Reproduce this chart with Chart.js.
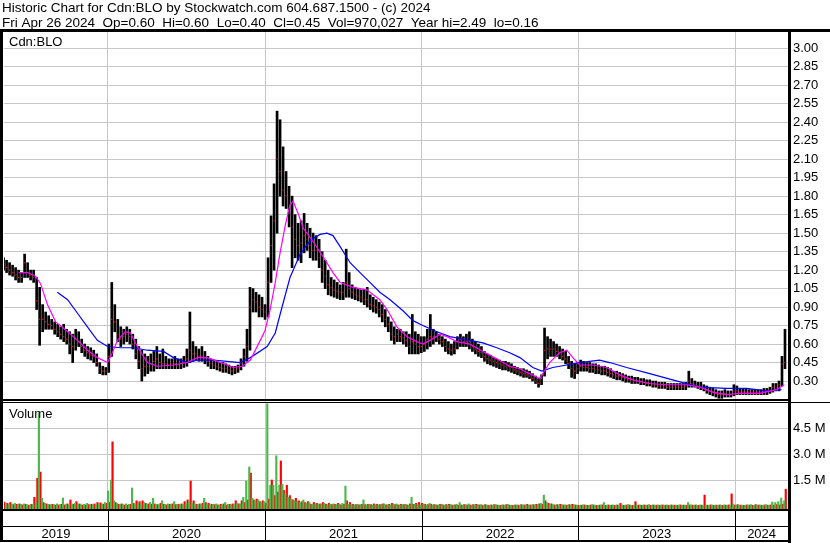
<!DOCTYPE html>
<html>
<head>
<meta charset="utf-8">
<title>Historic Chart for Cdn:BLO</title>
<script src="https://cdn.jsdelivr.net/npm/chart.js"></script>
<style>
  html, body { margin: 0; padding: 0; background: #fff; }
  #wrap { width: 830px; height: 543px; }
</style>
</head>
<body>
<div id="wrap"><canvas id="chart" width="830" height="543"></canvas></div>
<script>
"use strict";

// ════════════════════════════════════════════
// DATA — weekly bars
// one bar per Friday, starting Fri May 3 2019
// ════════════════════════════════════════════

const titleLine1 = "Historic Chart for Cdn:BLO by Stockwatch.com 604.687.1500 - (c) 2024";
const titleLine2 = "Fri Apr 26 2024  Op=0.60  Hi=0.60  Lo=0.40  Cl=0.45  Vol=970,027  Year hi=2.49  lo=0.16";
const symbolLabel = "Cdn:BLO";
const volumeLabel = "Volume";

const yearLabels  = ["2019", "2020", "2021", "2022", "2023", "2024"];
const priceTicks  = [0.30, 0.45, 0.60, 0.75, 0.90, 1.05, 1.20, 1.35, 1.50, 1.65, 1.80, 1.95, 2.10, 2.25, 2.40, 2.55, 2.70, 2.85, 3.00];
const volumeTicks = [1.5, 3.0, 4.5]; // millions

const weekHigh = [
  1.30,1.28,1.26,1.24,1.22,1.20,1.18,1.33,1.26,1.20,
  1.20,1.14,1.06,0.92,0.86,0.83,0.80,0.78,0.76,0.74,
  0.76,0.72,0.70,0.68,0.72,0.70,0.64,0.60,0.58,0.57,
  0.55,0.52,0.45,0.42,0.41,0.60,1.10,0.92,0.80,0.74,
  0.72,0.74,0.72,0.68,0.64,0.58,0.55,0.52,0.50,0.52,
  0.54,0.58,0.52,0.56,0.50,0.48,0.48,0.50,0.48,0.48,
  0.50,0.56,0.86,0.62,0.58,0.56,0.58,0.54,0.50,0.48,
  0.47,0.46,0.45,0.45,0.44,0.43,0.42,0.42,0.43,0.48,
  0.56,0.72,1.06,1.05,1.02,1.00,0.98,0.92,1.30,1.64,
  1.90,2.49,2.42,2.20,2.00,1.88,1.80,1.65,1.58,1.60,
  1.66,1.58,1.54,1.50,1.48,1.45,1.35,1.28,1.20,1.14,
  1.12,1.10,1.08,1.10,1.37,1.18,1.08,1.06,1.05,1.04,
  1.04,1.06,1.00,0.98,0.96,0.94,0.92,0.88,0.82,0.78,
  0.74,0.72,0.72,0.70,0.70,0.68,0.84,0.70,0.68,0.66,
  0.66,0.72,0.84,0.72,0.70,0.68,0.66,0.64,0.62,0.60,
  0.62,0.66,0.68,0.66,0.68,0.70,0.64,0.62,0.60,0.58,
  0.54,0.52,0.51,0.49,0.48,0.47,0.46,0.46,0.45,0.44,
  0.42,0.41,0.40,0.40,0.39,0.38,0.36,0.34,0.32,0.35,
  0.73,0.66,0.64,0.62,0.60,0.58,0.56,0.54,0.50,0.46,
  0.44,0.45,0.47,0.46,0.45,0.45,0.44,0.44,0.43,0.42,
  0.42,0.41,0.40,0.38,0.38,0.37,0.36,0.35,0.34,0.34,
  0.33,0.33,0.32,0.32,0.31,0.31,0.30,0.30,0.29,0.29,
  0.29,0.28,0.28,0.28,0.28,0.28,0.28,0.29,0.38,0.32,
  0.30,0.29,0.29,0.27,0.26,0.25,0.24,0.23,0.22,0.22,
  0.23,0.22,0.22,0.27,0.26,0.24,0.24,0.24,0.23,0.23,
  0.23,0.23,0.23,0.24,0.24,0.25,0.28,0.28,0.30,0.50,
  0.72
];

const weekLow = [
  1.20,1.18,1.16,1.15,1.12,1.10,1.10,1.14,1.14,1.12,
  1.10,0.88,0.59,0.70,0.72,0.72,0.72,0.68,0.66,0.64,
  0.62,0.60,0.52,0.45,0.55,0.58,0.53,0.50,0.48,0.47,
  0.45,0.42,0.36,0.35,0.35,0.37,0.50,0.70,0.62,0.58,
  0.60,0.62,0.60,0.56,0.48,0.40,0.30,0.34,0.36,0.38,
  0.38,0.40,0.40,0.40,0.40,0.40,0.40,0.40,0.40,0.40,
  0.41,0.42,0.45,0.46,0.47,0.46,0.46,0.44,0.42,0.40,
  0.40,0.39,0.38,0.37,0.37,0.36,0.35,0.36,0.37,0.39,
  0.42,0.46,0.55,0.86,0.86,0.82,0.82,0.80,0.82,1.10,
  1.20,1.50,1.80,1.72,1.70,1.55,1.22,1.30,1.28,1.26,
  1.34,1.36,1.30,1.28,1.28,1.22,1.10,1.05,1.00,0.99,
  0.98,0.97,0.96,0.96,0.98,0.98,0.97,0.96,0.95,0.94,
  0.92,0.90,0.88,0.86,0.85,0.82,0.78,0.74,0.70,0.63,
  0.60,0.62,0.62,0.60,0.58,0.52,0.52,0.52,0.52,0.53,
  0.54,0.56,0.58,0.60,0.62,0.60,0.58,0.54,0.52,0.51,
  0.52,0.56,0.58,0.58,0.58,0.56,0.54,0.52,0.50,0.49,
  0.46,0.44,0.43,0.42,0.41,0.40,0.39,0.39,0.38,0.37,
  0.36,0.35,0.34,0.33,0.33,0.32,0.30,0.28,0.25,0.27,
  0.34,0.48,0.50,0.50,0.50,0.48,0.47,0.44,0.40,0.33,
  0.32,0.36,0.38,0.38,0.38,0.37,0.37,0.36,0.36,0.35,
  0.35,0.34,0.33,0.32,0.31,0.31,0.30,0.29,0.29,0.28,
  0.28,0.28,0.27,0.27,0.26,0.26,0.25,0.25,0.24,0.24,
  0.24,0.23,0.23,0.23,0.23,0.23,0.23,0.23,0.25,0.25,
  0.25,0.24,0.23,0.22,0.20,0.19,0.18,0.17,0.16,0.16,
  0.17,0.17,0.17,0.18,0.19,0.19,0.19,0.19,0.19,0.19,
  0.19,0.19,0.19,0.19,0.19,0.20,0.21,0.22,0.22,0.26,
  0.40
];

const weekClose = [
  1.24,1.22,1.20,1.18,1.16,1.14,1.14,1.26,1.18,1.16,
  1.14,0.95,0.80,0.80,0.78,0.76,0.75,0.72,0.70,0.68,
  0.66,0.64,0.60,0.58,0.64,0.62,0.58,0.55,0.53,0.51,
  0.50,0.45,0.40,0.38,0.38,0.50,0.80,0.78,0.68,0.64,
  0.66,0.68,0.66,0.60,0.52,0.46,0.40,0.42,0.42,0.44,
  0.46,0.48,0.45,0.44,0.44,0.43,0.44,0.44,0.43,0.44,
  0.45,0.48,0.55,0.52,0.52,0.50,0.50,0.48,0.46,0.44,
  0.43,0.42,0.41,0.40,0.40,0.39,0.38,0.39,0.40,0.44,
  0.50,0.58,0.90,0.96,0.94,0.90,0.88,0.86,1.10,1.40,
  1.60,2.10,2.00,1.85,1.80,1.68,1.55,1.45,1.40,1.42,
  1.48,1.45,1.40,1.36,1.36,1.30,1.20,1.15,1.08,1.06,
  1.04,1.03,1.02,1.02,1.10,1.05,1.02,1.00,0.99,0.98,
  0.96,0.96,0.92,0.91,0.90,0.88,0.84,0.80,0.76,0.68,
  0.66,0.68,0.66,0.65,0.63,0.58,0.62,0.60,0.58,0.58,
  0.60,0.64,0.66,0.66,0.66,0.64,0.62,0.58,0.56,0.55,
  0.56,0.62,0.64,0.62,0.62,0.62,0.58,0.56,0.54,0.53,
  0.50,0.48,0.47,0.46,0.45,0.44,0.43,0.42,0.42,0.41,
  0.39,0.38,0.37,0.36,0.35,0.34,0.32,0.30,0.28,0.32,
  0.55,0.56,0.56,0.56,0.54,0.52,0.50,0.48,0.44,0.40,
  0.38,0.40,0.42,0.41,0.41,0.40,0.40,0.39,0.39,0.38,
  0.38,0.37,0.36,0.35,0.34,0.34,0.33,0.32,0.31,0.31,
  0.30,0.30,0.29,0.29,0.28,0.28,0.27,0.27,0.26,0.26,
  0.26,0.25,0.25,0.25,0.25,0.25,0.25,0.26,0.30,0.28,
  0.27,0.26,0.25,0.24,0.23,0.22,0.21,0.20,0.19,0.19,
  0.20,0.19,0.19,0.22,0.22,0.21,0.21,0.21,0.21,0.21,
  0.21,0.21,0.21,0.21,0.22,0.22,0.25,0.25,0.27,0.44,
  0.45
];

// volume in millions, up days (green) and down days (red)
const volumeUp = [
  0.10,0.05,0.08,0.12,0.15,0.06,0.10,0.12,0.08,0.05,
  0.10,0.15,5.37,0.45,0.15,0.10,0.06,0.08,0.12,0.08,
  0.46,0.10,0.05,0.12,0.15,0.10,0.08,0.10,0.15,0.05,
  0.06,0.10,0.08,0.12,0.20,0.87,1.50,0.30,0.15,0.10,
  0.08,0.12,0.10,1.04,0.10,0.15,0.08,0.20,0.10,0.20,
  0.45,0.10,0.08,0.30,0.10,0.12,0.08,0.25,0.10,0.06,
  0.10,0.15,0.30,0.15,0.12,0.08,0.10,0.45,0.10,0.06,
  0.10,0.12,0.05,0.08,0.20,0.10,0.06,0.08,0.15,0.12,
  0.50,1.44,2.25,0.45,0.30,0.35,0.20,0.25,5.90,1.20,
  1.20,2.90,1.20,1.25,0.70,0.50,0.40,0.30,0.25,0.20,
  0.35,0.15,0.20,0.10,0.12,0.08,0.10,0.15,0.06,0.10,
  0.12,0.08,0.10,0.15,1.15,0.10,0.08,0.06,0.10,0.08,
  0.35,0.06,0.10,0.05,0.08,0.06,0.10,0.12,0.08,0.06,
  0.10,0.12,0.06,0.08,0.10,0.05,0.50,0.10,0.08,0.06,
  0.10,0.06,0.15,0.05,0.08,0.06,0.10,0.05,0.04,0.08,
  0.06,0.10,0.20,0.05,0.08,0.12,0.04,0.06,0.05,0.08,
  0.04,0.06,0.05,0.04,0.08,0.05,0.06,0.04,0.10,0.05,
  0.04,0.06,0.04,0.05,0.06,0.04,0.05,0.06,0.08,0.15,
  0.63,0.20,0.10,0.08,0.06,0.05,0.04,0.06,0.05,0.04,
  0.06,0.05,0.04,0.06,0.05,0.04,0.08,0.05,0.04,0.06,
  0.20,0.05,0.04,0.06,0.05,0.04,0.06,0.05,0.08,0.04,
  0.05,0.04,0.06,0.05,0.04,0.08,0.05,0.04,0.06,0.05,
  0.04,0.06,0.05,0.04,0.05,0.06,0.04,0.05,0.20,0.06,
  0.04,0.05,0.06,0.04,0.05,0.04,0.06,0.05,0.04,0.05,
  0.06,0.04,0.05,0.12,0.05,0.04,0.05,0.04,0.06,0.08,
  0.04,0.05,0.06,0.05,0.08,0.05,0.23,0.20,0.25,0.46,
  0.30
];

const volumeDown = [
  0.22,0.15,0.20,0.08,0.10,0.12,0.06,0.10,0.05,0.10,
  0.50,1.60,1.96,0.20,0.12,0.08,0.10,0.05,0.06,0.10,
  0.06,0.12,0.35,0.10,0.25,0.12,0.05,0.06,0.08,0.10,
  0.12,0.20,0.18,0.10,0.15,0.20,3.70,0.20,0.10,0.12,
  0.06,0.05,0.10,0.15,0.30,0.25,0.30,0.15,0.12,0.10,
  0.12,0.08,0.15,0.10,0.06,0.10,0.12,0.08,0.10,0.12,
  0.25,0.35,1.44,0.30,0.10,0.12,0.15,0.20,0.15,0.10,
  0.08,0.06,0.10,0.12,0.05,0.10,0.12,0.30,0.12,0.30,
  0.20,0.35,1.90,0.35,0.40,0.25,0.30,0.15,0.40,1.50,
  0.60,0.80,2.60,0.90,1.20,0.60,0.35,0.45,0.30,0.25,
  0.20,0.25,0.10,0.20,0.15,0.12,0.20,0.10,0.15,0.08,
  0.10,0.15,0.06,0.10,0.30,0.20,0.10,0.08,0.06,0.10,
  0.08,0.10,0.08,0.12,0.10,0.08,0.12,0.06,0.10,0.15,
  0.08,0.06,0.10,0.08,0.06,0.12,0.10,0.15,0.20,0.15,
  0.10,0.08,0.10,0.08,0.05,0.10,0.06,0.08,0.10,0.05,
  0.06,0.04,0.06,0.08,0.05,0.06,0.08,0.10,0.06,0.05,
  0.08,0.04,0.06,0.08,0.05,0.04,0.06,0.08,0.05,0.04,
  0.06,0.05,0.08,0.06,0.10,0.06,0.08,0.10,0.12,0.10,
  0.30,0.15,0.12,0.06,0.08,0.10,0.06,0.05,0.08,0.10,
  0.06,0.04,0.05,0.06,0.04,0.05,0.06,0.04,0.05,0.06,
  0.04,0.06,0.05,0.04,0.06,0.15,0.04,0.05,0.06,0.04,
  0.25,0.05,0.04,0.06,0.05,0.04,0.06,0.05,0.04,0.06,
  0.05,0.04,0.06,0.05,0.04,0.06,0.05,0.04,0.06,0.05,
  0.06,0.04,0.05,0.63,0.05,0.06,0.04,0.05,0.06,0.04,
  0.05,0.06,0.70,0.05,0.08,0.05,0.04,0.06,0.05,0.04,
  0.08,0.05,0.04,0.06,0.04,0.06,0.05,0.08,0.06,0.10,
  0.97
];

// moving averages, read at the week positions given
const fastMaWeek = [5.0,8.0,10.6,12.3,14.6,17.3,19.9,24.6,27.9,31.2,34.6,36.2,37.9,40.5,42.2,44.5,47.8,51.2,56.5,61.1,
  64.5,67.8,72.1,76.4,79.4,82.1,85.4,87.0,88.7,90.4,92.0,93.7,95.3,96.3,98.0,99.7,103.0,106.3,109.6,112.0,
  116.3,120.9,125.2,127.6,130.9,134.2,137.5,139.5,141.9,145.2,147.5,150.8,155.1,159.5,164.1,168.4,171.8,174.1,178.4,181.7,
  185.0,187.4,189.4,191.7,196.0,200.7,205.0,209.3,215.0,220.6,227.2,231.6,235.9,240.5,244.9,251.5,257.1,259.8];
const fastMaValue = [1.18,1.18,1.15,1.09,0.92,0.78,0.73,0.63,0.55,0.49,0.45,0.53,0.63,0.70,0.69,0.58,0.45,0.42,0.43,0.45,
  0.49,0.49,0.45,0.41,0.42,0.47,0.63,0.71,0.88,1.10,1.34,1.56,1.73,1.76,1.66,1.54,1.43,1.31,1.18,1.10,
  1.06,1.04,0.96,0.88,0.74,0.66,0.62,0.60,0.63,0.68,0.66,0.62,0.60,0.54,0.48,0.42,0.40,0.37,0.32,0.45,
  0.53,0.55,0.49,0.43,0.43,0.41,0.35,0.31,0.28,0.27,0.27,0.25,0.21,0.19,0.20,0.20,0.23,0.27];

const slowMaWeek = [17.9,21.3,24.6,27.9,31.2,34.6,38.9,43.2,47.8,53.2,56.5,61.1,64.5,69.8,78.7,82.1,87.7,90.4,92.0,95.3,
  98.7,102.0,105.3,107.6,109.6,112.0,115.3,118.6,121.9,125.2,128.6,132.9,136.2,139.5,144.2,148.5,155.1,159.5,164.1,168.4,
  171.8,176.1,179.1,182.7,187.4,191.7,198.3,201.7,207.3,215.0,222.6,231.6,240.5,247.2,253.8,258.8];
const slowMaValue = [1.02,0.96,0.85,0.74,0.63,0.58,0.57,0.57,0.55,0.54,0.49,0.45,0.47,0.47,0.45,0.49,0.58,0.69,0.84,1.14,
  1.33,1.44,1.49,1.50,1.48,1.39,1.26,1.18,1.10,1.02,0.96,0.87,0.79,0.75,0.70,0.66,0.63,0.61,0.57,0.53,
  0.49,0.41,0.38,0.41,0.43,0.45,0.47,0.45,0.41,0.36,0.31,0.25,0.24,0.24,0.22,0.23];

// ════════════════════════════════════════════
// DATES — x axis is days since Jan 1 2019
// ════════════════════════════════════════════

function dayNumber(y, m, d) {
  return (Date.UTC(y, m - 1, d) - Date.UTC(2019, 0, 1)) / 86400000;
}

const FIRST_BAR_DAY = dayNumber(2019, 5, 3);
const X_MIN = dayNumber(2019, 5, 4);
const X_MAX = dayNumber(2024, 5, 3);

const weekDays  = weekHigh.map((_, i) => FIRST_BAR_DAY + 7 * i);
const yearStart = [2020, 2021, 2022, 2023, 2024].map((y) => dayNumber(y, 1, 1));
const yearBounds = [X_MIN].concat(yearStart, [X_MAX]);
const yearMid   = yearLabels.map((_, i) => (yearBounds[i] + yearBounds[i + 1]) / 2);

// ════════════════════════════════════════════
// CHART
// ════════════════════════════════════════════

const FONT = "Arial, 'Liberation Sans', sans-serif";
const GRID = "#c6c6c6";
const PRICE_MIN = 0.138, PRICE_MAX = 3.132;
const VOL_MIN = -0.173, VOL_MAX = 6.06;

Chart.defaults.font.family = FONT;
Chart.defaults.font.size = 13;
Chart.defaults.color = "#000";

// frames, header and panel captions
const framePlugin = {
  id: "frame",
  afterDraw(chart) {
    const ctx = chart.ctx;
    const xs = chart.scales.x;
    ctx.save();
    ctx.fillStyle = "#000";
    ctx.textBaseline = "alphabetic";
    ctx.textAlign = "left";
    ctx.font = "13.5px " + FONT;
    ctx.fillText(titleLine1, 2, 12);
    ctx.fillText(titleLine2, 2, 27);
    ctx.font = "13px " + FONT;
    ctx.fillText(symbolLabel, 9, 46);
    ctx.fillText(volumeLabel, 9, 418);

    ctx.fillRect(0, 29, 830, 3);      // under header
    ctx.fillRect(0, 29, 3, 512);      // left edge
    ctx.fillRect(788, 29, 3, 514);    // axis line
    ctx.fillRect(0, 399, 790, 2);     // price / volume split
    ctx.fillRect(0, 402, 830, 1);
    ctx.fillRect(0, 509, 790, 2);     // date band
    ctx.fillRect(0, 526, 790, 1);
    ctx.fillRect(0, 540, 790, 2);
    yearStart.forEach((d) => {
      const px = Math.round(xs.getPixelForValue(d));
      ctx.fillRect(px, 509, 1, 32);
    });
    ctx.restore();
  },
};

new Chart(document.getElementById("chart"), {
  type: "bar",
  data: {
    datasets: [
      {
        type: "line",
        label: "Short MA",
        data: fastMaWeek.map((w, i) => ({ x: FIRST_BAR_DAY + 7 * w, y: fastMaValue[i] })),
        yAxisID: "price",
        borderColor: "#ff00ff",
        borderWidth: 1.2,
        pointRadius: 0,
        tension: 0,
        order: 0,
      },
      {
        type: "line",
        label: "Long MA",
        data: slowMaWeek.map((w, i) => ({ x: FIRST_BAR_DAY + 7 * w, y: slowMaValue[i] })),
        yAxisID: "price",
        borderColor: "#0000ff",
        borderWidth: 1.2,
        pointRadius: 0,
        tension: 0,
        order: 0,
      },
      {
        type: "line",
        label: "Close",
        data: weekDays.map((d, i) => ({ x: d, y: weekClose[i] })),
        yAxisID: "price",
        showLine: false,
        pointStyle: "rect",
        pointRadius: 0.8,
        pointBorderWidth: 0,
        pointBackgroundColor: "#ff0000",
        order: 1,
      },
      {
        label: "High-Low",
        data: weekDays.map((d, i) => ({ x: d, y: [weekLow[i], weekHigh[i]] })),
        yAxisID: "price",
        backgroundColor: "#000",
        barThickness: 2,
        grouped: false,
        order: 2,
      },
      {
        label: "Volume up",
        data: weekDays.map((d, i) => ({ x: d, y: volumeUp[i] })),
        yAxisID: "volume",
        backgroundColor: "#4cb84c",
        base: VOL_MIN,
        categoryPercentage: 1,
        barPercentage: 1,
        order: 3,
      },
      {
        label: "Volume down",
        data: weekDays.map((d, i) => ({ x: d, y: volumeDown[i] })),
        yAxisID: "volume",
        backgroundColor: "#ff0000",
        base: VOL_MIN,
        categoryPercentage: 1,
        barPercentage: 1,
        order: 3,
      },
    ],
  },
  options: {
    responsive: false,
    animation: false,
    devicePixelRatio: 1,
    events: [],
    layout: { padding: { left: 3, top: 32, right: 0, bottom: 0 } },
    plugins: {
      legend: { display: false },
      tooltip: { enabled: false },
      title: { display: false },
    },
    scales: {
      price: {
        type: "linear",
        position: "right",
        stack: "panels",
        stackWeight: 369,
        min: PRICE_MIN,
        max: PRICE_MAX,
        afterBuildTicks: (s) => { s.ticks = priceTicks.map((v) => ({ value: v })); },
        afterFit: (s) => { s.width = 42; },
        grid: { color: GRID, drawTicks: false },
        border: { display: false },
        ticks: { padding: 5, autoSkip: false, callback: (v) => Number(v).toFixed(2) },
      },
      volume: {
        type: "linear",
        position: "right",
        stack: "panels",
        stackWeight: 108,
        min: VOL_MIN,
        max: VOL_MAX,
        afterBuildTicks: (s) => { s.ticks = volumeTicks.map((v) => ({ value: v })); },
        afterFit: (s) => { s.width = 42; },
        grid: { color: GRID, drawTicks: false },
        border: { display: false },
        ticks: { padding: 5, autoSkip: false, callback: (v) => Number(v).toFixed(1) + " M" },
      },
      x: {
        type: "linear",
        position: "bottom",
        min: X_MIN,
        max: X_MAX,
        offset: false,
        afterBuildTicks: (s) => { s.ticks = yearStart.map((v) => ({ value: v })); },
        afterFit: (s) => { s.height = 0; },
        grid: { color: GRID, drawTicks: false, offset: false },
        border: { display: false },
        ticks: { display: false },
      },
      years: {
        type: "linear",
        position: "bottom",
        min: X_MIN,
        max: X_MAX,
        offset: false,
        afterBuildTicks: (s) => { s.ticks = yearMid.map((v) => ({ value: v })); },
        afterFit: (s) => { s.height = 34; },
        grid: { display: false, drawTicks: false },
        border: { display: false },
        ticks: { padding: 18, autoSkip: false, maxRotation: 0, callback: (v, i) => yearLabels[i] },
      },
    },
  },
  plugins: [framePlugin],
});
</script>
</body>
</html>
